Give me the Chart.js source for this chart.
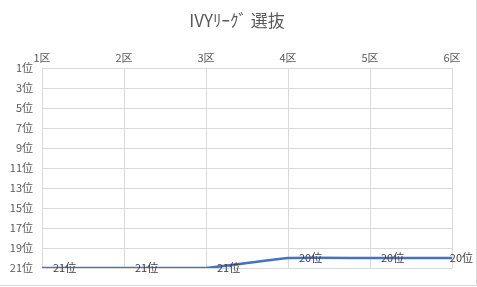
<!DOCTYPE html>
<html>
<head>
<meta charset="utf-8">
<script src="https://cdn.jsdelivr.net/npm/chart.js@4"></script>
<style>
  html, body { margin: 0; padding: 0; background: #fff; }
  #wrap { width: 477px; height: 287px; }
</style>
</head>
<body>
<div id="wrap"><canvas id="chart" width="477" height="287"></canvas></div>
<script>
const sections = ['1区', '2区', '3区', '4区', '5区', '6区'];
const ranks = [21, 21, 21, 20, 20, 20];
const titleText = 'IVYﾘｰｸﾞ 選抜';
const FONT = '"Noto Sans CJK JP", "Noto Sans", sans-serif';

// title centred on the whole canvas, not on the padded layout box
const titleDraw = {
  id: 'titleDraw',
  afterDraw(chart) {
    const { ctx } = chart;
    ctx.save();
    ctx.font = `17px ${FONT}`;
    ctx.fillStyle = '#595959';
    ctx.textAlign = 'center';
    ctx.textBaseline = 'middle';
    ctx.fillText(titleText, 237, 21);
    ctx.restore();
  }
};

// rank labels beside each point, like Excel's data labels
const rankLabels = {
  id: 'rankLabels',
  afterDatasetsDraw(chart) {
    const { ctx } = chart;
    const meta = chart.getDatasetMeta(0);
    ctx.save();
    ctx.font = `11px ${FONT}`;
    ctx.fillStyle = '#404040';
    ctx.textBaseline = 'middle';
    meta.data.forEach((pt, i) => {
      const txt = ranks[i] + '位';
      const w = ctx.measureText(txt).width;
      let x = pt.x + 11;
      if (x + w > chart.width - 4) x = chart.width - 4 - w;
      ctx.fillText(txt, x, pt.y);
    });
    ctx.restore();
  }
};

const frame = {
  id: 'frame',
  afterDraw(chart) {
    const { ctx } = chart;
    ctx.save();
    ctx.strokeStyle = '#d9d9d9';
    ctx.lineWidth = 1;
    ctx.beginPath();
    ctx.moveTo(476.5, 0);
    ctx.lineTo(476.5, 285.5);
    ctx.lineTo(0, 285.5);
    ctx.stroke();
    ctx.restore();
  }
};

new Chart(document.getElementById('chart').getContext('2d'), {
  type: 'line',
  data: {
    labels: sections,
    datasets: [{
      data: ranks,
      borderColor: '#4472C4',
      borderWidth: 2.5,
      pointRadius: 0,
      tension: 0.15,
      fill: false
    }]
  },
  options: {
    responsive: false,
    animation: false,
    layout: { padding: { left: 0, right: 25, top: 38, bottom: 19 } },
    plugins: {
      legend: { display: false },
      tooltip: { enabled: false },
      title: { display: false }
    },
    scales: {
      x: {
        position: 'top',
        offset: false,
        grid: { color: '#d9d9d9', drawTicks: false },
        border: { color: '#d9d9d9' },
        ticks: { color: '#595959', font: { family: FONT, size: 11 }, padding: 4 },
        afterFit: s => { s.height = 30; }
      },
      y: {
        reverse: true,
        min: 1,
        max: 21,
        grid: { color: '#d9d9d9', drawTicks: false },
        border: { color: '#d9d9d9' },
        ticks: {
          stepSize: 2,
          color: '#595959',
          font: { family: FONT, size: 11 },
          padding: 9,
          callback: v => v + '位'
        },
        afterFit: s => { s.width = 42; }
      }
    }
  },
  plugins: [rankLabels, titleDraw, frame]
});
</script>
</body>
</html>
